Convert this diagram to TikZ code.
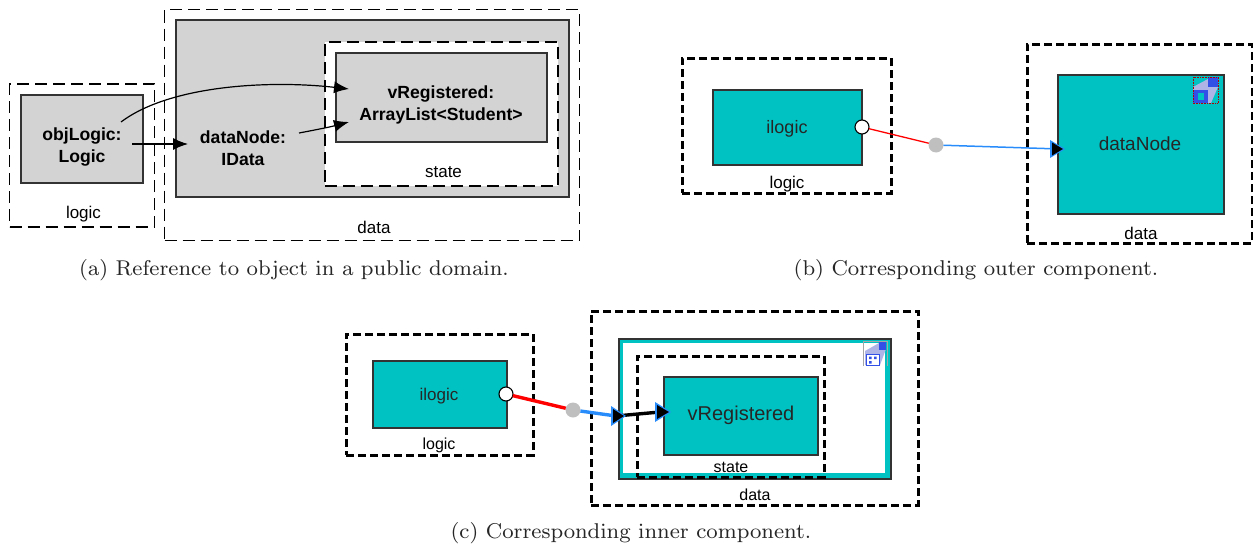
\documentclass[tikz,border=0pt]{standalone}
\usepackage{fontspec}
\setsansfont{Liberation Sans}
\definecolor{teal1}{RGB}{0,194,194}
\definecolor{greybox}{RGB}{211,211,211}
\definecolor{wireblue}{RGB}{40,140,250}
\definecolor{iconblue}{RGB}{50,80,230}
\definecolor{iconpale}{RGB}{175,180,230}
\newcommand{\sfz}[1]{\fontsize{#1}{22}\selectfont\sffamily}
\font\capfnt=cmr8 at 21.4pt
\usetikzlibrary{arrows.meta}
\tikzset{
  x=1pt,y=-1pt,
  every node/.style={outer sep=0pt,inner sep=0pt},
  thindash/.style={draw=black,line width=1.15pt,dash pattern=on 12pt off 6pt},
  heavydash/.style={draw=black,line width=3pt,dash pattern=on 8pt off 4pt},
  graybox/.style={draw=black!80,fill=greybox,line width=1.2pt},
  tealbox/.style={draw=black!80,fill=teal1,line width=1.1pt},
  boldlabel/.style={font=\sfz{17.6}\bfseries,align=center,text=black},
  plainlabel/.style={font=\sfz{17},text=black},
  tealtext/.style={font=\sfz{18},text=black!85},
  caplabel/.style={font=\capfnt,text=black!85},
  curvearrow/.style={-{Latex[length=15pt,width=12pt]},line width=1.2pt},
  portdot/.style={circle,draw=black,fill=white,line width=1.1pt,minimum size=14pt},
  jointdot/.style={circle,fill=black!25,minimum size=15pt},
}
\begin{document}
\begin{tikzpicture}
\useasboundingbox (0,0) rectangle (1253,546);
% ---------- panel (a)
\node[thindash,minimum width=145pt,minimum height=143pt] (aLogicDom) at (82,155.5) {};
\node[thindash,minimum width=415pt,minimum height=231pt] (aDataDom) at (372,125) {};
\node[graybox,minimum width=393pt,minimum height=177pt] (aDataBox) at (372.5,108.5) {};
\node[thindash,fill=white,minimum width=233pt,minimum height=144pt] (aStateDom) at (441.5,114) {};
\node[graybox,minimum width=211pt,minimum height=89pt] (aReg) at (441.5,97.5) {};
\node[graybox,minimum width=122pt,minimum height=88pt] (aObj) at (82,139) {};
\node[boldlabel] (aObjT) at (82,147) {objLogic:\\Logic};
\node[boldlabel] (aDataT) at (243,148) {dataNode:\\IData};
\node[boldlabel] (aRegT) at (441,105) {vRegistered:\\ArrayList<Student>};
\node[plainlabel] (aL1) at (83.5,214) {logic};
\node[plainlabel] (aL2) at (374,227) {data};
\node[plainlabel] (aL3) at (443.5,172) {state};
\coordinate (a1s) at (121,122);
\coordinate (a1e) at (349,89);
\coordinate (a2s) at (132,144);
\coordinate (a2e) at (188,144);
\coordinate (a3s) at (299,133);
\coordinate (a3e) at (349,122);
\draw[curvearrow] (a1s) .. controls (170,85) and (270,80) .. (a1e);
\draw[curvearrow] (a2s) -- (a2e);
\draw[curvearrow] (a3s) .. controls (315,130) and (330,127) .. (a3e);
\node[caplabel] (capA) at (294,270) {(a) Reference to object in a public domain.};
% ---------- panel (b)
\node[heavydash,minimum width=209pt,minimum height=135pt] (bLogicDom) at (786.5,125.5) {};
\node[tealbox,minimum width=149pt,minimum height=75pt] (bI) at (787.5,127.5) {};
\node[tealtext] (bIT) at (787,129) {ilogic};
\node[plainlabel] (bL1) at (787,184) {logic};
\node[heavydash,minimum width=225pt,minimum height=199pt] (bDataDom) at (1139.5,143.5) {};
\node[tealbox,minimum width=166pt,minimum height=139pt] (bD) at (1141,144.5) {};
\node[tealtext,font=\sfz{19}] (bDT) at (1140,144) {dataNode};
\node[plainlabel] (bL2) at (1141,233) {data};
\node[portdot] (bPort) at (862,127) {};
\node[jointdot] (bJoint) at (936,145) {};
\coordinate (bTip) at (1060,149);
\draw[red,line width=1.3pt] (bPort) -- (bJoint);
\draw[wireblue,line width=1.5pt] (bJoint) -- (bTip);
\fill[wireblue] (1050,140) -- (1065,149) -- (1050,158) -- cycle;
\fill[black] (1052,142.5) -- (1063,149) -- (1052,155.5) -- cycle;
% icon (b)
\begin{scope}[shift={(1192,77)}]
  \fill[iconpale] (1,10) -- (16,2) -- (26,10) -- (19,26) -- (1,26) -- cycle;
  \fill[iconblue] (16,0) rectangle (26,10);
  \fill[iconblue] (1,13) rectangle (16,26);
  \fill[teal1] (6,16) rectangle (12,23);
  \draw[red!70!black,line width=.6pt,densely dotted] (1,0) rectangle (26,26);
\end{scope}
\node[caplabel] (capB) at (976,270) {(b) Corresponding outer component.};
% ---------- panel (c)
\node[heavydash,minimum width=187pt,minimum height=121pt] (cLogicDom) at (439.5,394.5) {};
\node[tealbox,minimum width=134pt,minimum height=67pt] (cI) at (440,394.5) {};
\node[tealtext,font=\sfz{17}] (cIT) at (439,396) {ilogic};
\node[plainlabel,font=\sfz{16}] (cL1) at (439,445) {logic};
\node[heavydash,minimum width=327pt,minimum height=194pt] (cDataDom) at (754.5,408) {};
\node[tealbox,minimum width=272pt,minimum height=140pt] (cDataBox) at (755,409) {};
\node[fill=white,minimum width=262pt,minimum height=130pt] (cInner) at (754,408) {};
\node[heavydash,minimum width=187pt,minimum height=121pt] (cStateDom) at (730.5,416.5) {};
\node[tealbox,minimum width=154pt,minimum height=78pt] (cR) at (741,416) {};
\node[tealtext,font=\sfz{20}] (cRT) at (741,415) {vRegistered};
\node[plainlabel,font=\sfz{16}] (cL3) at (731,467) {state};
\node[plainlabel,font=\sfz{16}] (cL2) at (755,495) {data};
\node[portdot] (cPort) at (506,394) {};
\node[jointdot] (cJoint) at (573,410) {};
\coordinate (cTip) at (616,416);
\coordinate (cTip2) at (660,412);
\draw[red,line width=3.4pt] (cPort) -- (cJoint);
\draw[wireblue,line width=3.4pt] (cJoint) -- (cTip);
\draw[black,line width=3.4pt] (cTip) -- (cTip2);
\fill[wireblue] (611,406) -- (626,416) -- (611,426) -- cycle;
\fill[black] (613,409) -- (624,416) -- (613,423) -- cycle;
\fill[wireblue] (655,402) -- (671,412) -- (655,422) -- cycle;
\fill[black] (657,405) -- (669,412) -- (657,419) -- cycle;
% icon (c)
\begin{scope}[shift={(862,340)}]
  \draw[black!35,line width=1pt] (1,26) -- (1,1) -- (25,1) -- (25,26);
  \fill[iconpale] (3,11) -- (17,3) -- (24,9) -- (18,25) -- (3,25) -- cycle;
  \fill[iconblue] (17,2) rectangle (24,10);
  \draw[iconblue,fill=white,line width=.8pt] (4,14) rectangle (17,25);
  \fill[iconblue] (7,16.5) rectangle (9.5,19) (12,16.5) rectangle (14.5,19) (7,21) rectangle (9.5,23.5);
\end{scope}
\node[caplabel] (capC) at (631,533) {(c) Corresponding inner component.};
\end{tikzpicture}
\end{document}
